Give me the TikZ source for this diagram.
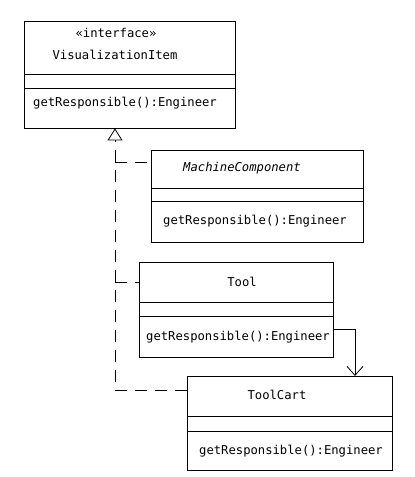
\documentclass[tikz,border=0pt]{standalone}
\usepackage{fontspec}
\setmonofont{DejaVu Sans Mono}
\usetikzlibrary{arrows.meta}
\tikzset{
  part/.style={draw, line width=0.8pt, inner sep=0pt, outer sep=0pt, anchor=north west},
  txt/.style={font=\fontsize{12.2}{14}\selectfont\ttfamily, inner sep=0pt},
  realize/.style={line width=0.8pt, dash pattern=on 12pt off 8pt},
  assoc/.style={line width=0.8pt, -{Straight Barb[length=9pt,width=16pt,line width=0.8pt]}}
}
\begin{document}
\begin{tikzpicture}[x=1pt,y=-1pt]
\useasboundingbox (0,0) rectangle (415,477);
% VisualizationItem
\node[part, minimum width=211pt, minimum height=53pt] (vin) at (24,21) {};
\node[part, minimum width=211pt, minimum height=14pt] (via) at (vin.south west) {};
\node[part, minimum width=211pt, minimum height=40pt] (vim) at (via.south west) {};
\node[txt] (vist) at (116,33) {«interface»};
\node[txt] (vint) at (115,55) {VisualizationItem};
\node[txt, anchor=west] (vimt) at (33,103) {getResponsible():Engineer};
% MachineComponent
\node[part, minimum width=212pt, minimum height=38pt] (mcn) at (151,150) {};
\node[part, minimum width=212pt, minimum height=13pt] (mca) at (mcn.south west) {};
\node[part, minimum width=212pt, minimum height=41pt] (mcm) at (mca.south west) {};
\node[txt] (mcnt) at (242,168) {\itshape MachineComponent};
\node[txt, anchor=west] (mcmt) at (163,221) {getResponsible():Engineer};
% Tool
\node[part, minimum width=194pt, minimum height=40pt] (tooln) at (139,262) {};
\node[part, minimum width=194pt, minimum height=14pt] (toola) at (tooln.south west) {};
\node[part, minimum width=194pt, minimum height=41pt] (toolm) at (toola.south west) {};
\node[txt] (toolnt) at (242,282) {Tool};
\node[txt, anchor=west] (toolmt) at (146,337) {getResponsible():Engineer};
% ToolCart
\node[part, minimum width=205pt, minimum height=40pt] (cartn) at (187,376) {};
\node[part, minimum width=205pt, minimum height=15pt] (carta) at (cartn.south west) {};
\node[part, minimum width=205pt, minimum height=39pt] (cartm) at (carta.south west) {};
\node[txt] (cartnt) at (277,395) {ToolCart};
\node[txt, anchor=west] (cartmt) at (199,451) {getResponsible():Engineer};
% realizations
\coordinate (tip) at (115,128.4);
\draw[realize, -{Triangle[open,length=12pt,width=15pt,line width=0.8pt]}] ([yshift=6pt]cartn.west) -| (tip);
\draw[realize] ([yshift=7pt]mcn.west -| tip) -- ([yshift=7pt]mcn.west);
\draw[realize] (tooln.west -| tip) -- (tooln.west);
% association
\draw[assoc] ([yshift=7pt]toolm.east) -| ([xshift=-37pt]cartn.north east);
\end{tikzpicture}
\end{document}
